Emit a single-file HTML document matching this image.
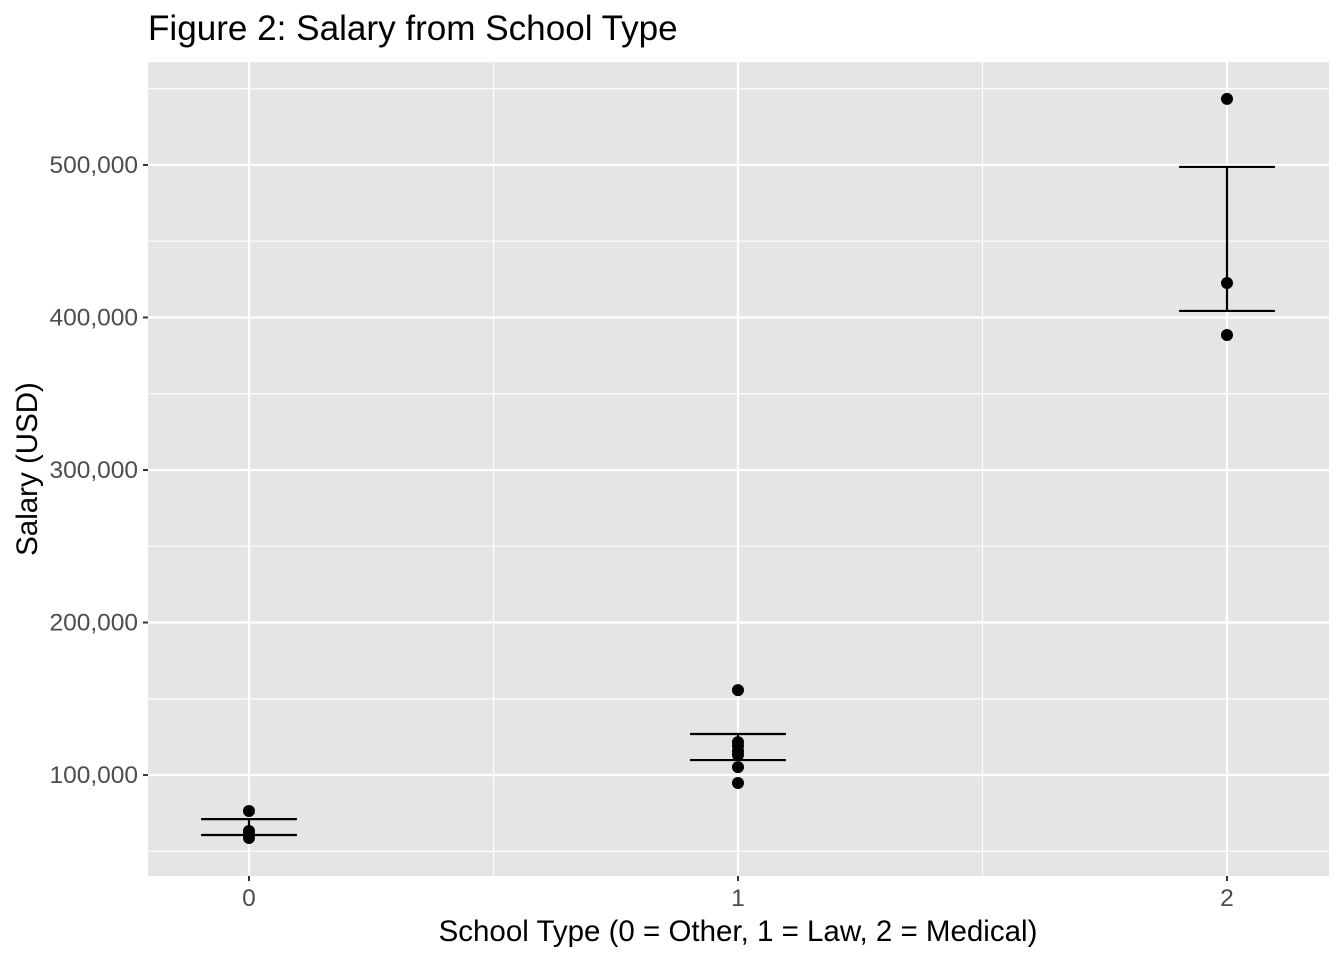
<!DOCTYPE html>
<html><head><meta charset="utf-8"><style>
body{margin:0;background:#fff;font-family:"Liberation Sans",Arial,sans-serif}
</style></head><body>
<svg id="chart" width="1344" height="960" xmlns="http://www.w3.org/2000/svg">
<text x="148" y="40" font-size="35.1" fill="#000">Figure 2: Salary from School Type</text>
<rect x="148" y="62" width="1181" height="814" fill="#e5e5e5"/>
<g id="grid"></g><g id="marks"></g><g id="axes"></g>
<text x="738" y="941" font-size="29.5" text-anchor="middle">School Type (0 = Other, 1 = Law, 2 = Medical)</text>
<text transform="translate(37,469) rotate(-90)" font-size="29.5" text-anchor="middle">Salary (USD)</text>
</svg>
<script>
const xCats=[0,1,2];
const yTicks=[100000,200000,300000,400000,500000];
const yTickLabels=["100,000","200,000","300,000","400,000","500,000"];
const yMinor=[50000,150000,250000,350000,450000,550000];
const ptGroup=[0,0,0,0,1,1,1,1,1,1,1,2,2,2];
const ptSalary=[76400,63300,61300,58700,155700,121600,119000,115700,113100,105200,94800,543300,422600,388500];
const barGroup=[0,1,2];
const barLow=[60700,109800,404300];
const barHigh=[71100,126900,498700];
const X0=148,X1=1329,Y0=876,Y1=62,xmin=-0.2065,xmax=2.2086,ymin=33800,ymax=567500;
const sx=v=>X0+(v-xmin)/(xmax-xmin)*(X1-X0);
const sy=v=>Y0-(v-ymin)/(ymax-ymin)*(Y0-Y1);
const NS="http://www.w3.org/2000/svg";
function mk(p,t,a){const e=document.createElementNS(NS,t);for(const k in a)e.setAttribute(k,a[k]);p.appendChild(e);return e;}
const grid=document.getElementById('grid'),marks=document.getElementById('marks'),axes=document.getElementById('axes');
yMinor.forEach(v=>{const l=mk(grid,'line',{x1:X0,x2:X1,y1:sy(v),y2:sy(v),stroke:'#fff','stroke-width':1.1});

});
[0.5,1.5].forEach(v=>{const l=mk(grid,'line',{x1:sx(v),x2:sx(v),y1:Y1,y2:Y0,stroke:'#fff','stroke-width':1.1});

});
yTicks.forEach((v,i)=>{const l=mk(grid,'line',{x1:X0,x2:X1,y1:sy(v),y2:sy(v),stroke:'#fff','stroke-width':2.2});


const tk=mk(axes,'line',{x1:X0-5,x2:X0,y1:sy(v),y2:sy(v),stroke:'#333','stroke-width':2});


const t=mk(axes,'text',{x:X0-10,y:sy(v)+8,'font-size':24.5,'text-anchor':'end',fill:'#4d4d4d'});t.textContent=yTickLabels[i];

});
xCats.forEach(c=>{const l=mk(grid,'line',{x1:sx(c),x2:sx(c),y1:Y1,y2:Y0,stroke:'#fff','stroke-width':2.2});


const tk=mk(axes,'line',{x1:sx(c),x2:sx(c),y1:Y0,y2:Y0+5,stroke:'#333','stroke-width':2});


const t=mk(axes,'text',{x:sx(c),y:Y0+30,'font-size':24.5,'text-anchor':'middle',fill:'#4d4d4d'});t.textContent=String(c);

});
barGroup.forEach((g,i)=>{const x=sx(g),w=sx(0.098)-sx(0),a=sy(barLow[i]),b=sy(barHigh[i]);
const e=mk(marks,'path',{d:`M${x-w},${b}H${x+w}M${x},${b}V${a}M${x-w},${a}H${x+w}`,stroke:'#000','stroke-width':2.2,fill:'none'});

});
ptSalary.forEach((v,i)=>{const c=mk(marks,'circle',{cx:sx(ptGroup[i]),cy:sy(v),r:6,fill:'#000'});

});
</script>
</body></html>
